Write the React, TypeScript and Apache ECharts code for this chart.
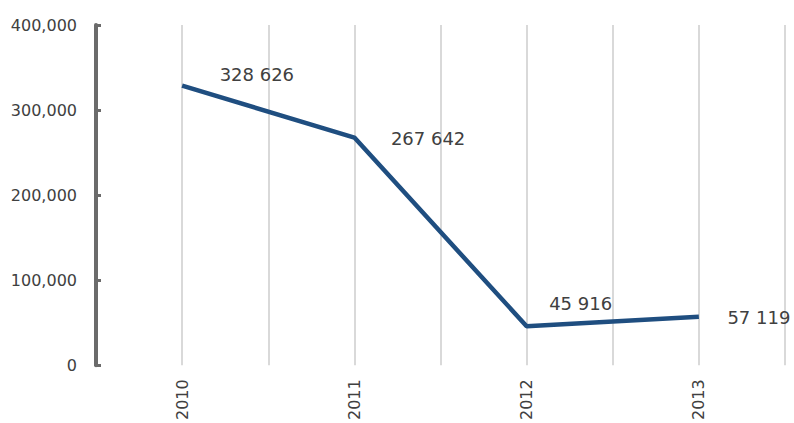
import React, { useEffect, useRef } from "react";
import * as echarts from "echarts";

const years = [2010, 2011, 2012, 2013];
const values = [328626, 267642, 45916, 57119];
const valueLabels = ["328 626", "267 642", "45 916", "57 119"];
const yTicks = { min: 0, max: 400000, interval: 100000 };

// label placement (style only)
const labelOffsets: [number, number][] = [
  [37, -11],
  [36, 1],
  [22, -23],
  [28, 1],
];

export default function App() {
  const ref = useRef<HTMLDivElement>(null);
  useEffect(() => {
    if (!ref.current) return;
    const chart = echarts.init(ref.current, undefined, { renderer: "svg" });
    const font = "DejaVu Sans";
    chart.setOption({
      animation: false,
      backgroundColor: "#ffffff",
      grid: { left: 96, right: 9, top: 25, bottom: 53, containLabel: false },
      xAxis: {
        type: "value",
        min: years[0] - 0.5,
        max: years[years.length - 1] + 0.5,
        interval: 0.5,
        axisLine: { show: false },
        axisTick: { show: false },
        splitLine: { show: true, lineStyle: { color: "#d9d9d9", width: 2 } },
        axisLabel: {
          rotate: 90,
          margin: 14,
          fontFamily: font,
          fontSize: 16,
          color: "#404040",
          showMinLabel: false,
          showMaxLabel: false,
          formatter: (v: number) => (Number.isInteger(v) ? String(v) : ""),
        },
      },
      yAxis: {
        type: "value",
        min: yTicks.min,
        max: yTicks.max,
        interval: yTicks.interval,
        axisLine: { show: true, lineStyle: { color: "#6b6b6b", width: 4 } },
        axisTick: { show: true, inside: true, length: 5, lineStyle: { color: "#6b6b6b", width: 3 } },
        splitLine: { show: false },
        axisLabel: {
          margin: 19,
          fontFamily: font,
          fontSize: 16,
          color: "#404040",
          formatter: (v: number) => v.toLocaleString("en-US"),
        },
      },
      series: [
        {
          type: "line",
          data: years.map((y, i) => ({
            value: [y, values[i]],
            label: {
              show: true,
              position: "right",
              distance: 0,
              offset: labelOffsets[i],
              formatter: valueLabels[i],
            },
          })),
          showSymbol: true,
          symbol: "circle",
          symbolSize: 1,
          itemStyle: { color: "rgba(0,0,0,0)" },
          lineStyle: { color: "#1f4e80", width: 4.5 },
          label: {
            show: true,
            fontFamily: font,
            fontSize: 18,
            color: "#404040",
          },
        },
      ],
    });
    return () => chart.dispose();
  }, []);
  return <div ref={ref} style={{ width: 794, height: 423, position: "absolute", left: 0, top: 0 }} />;
}
